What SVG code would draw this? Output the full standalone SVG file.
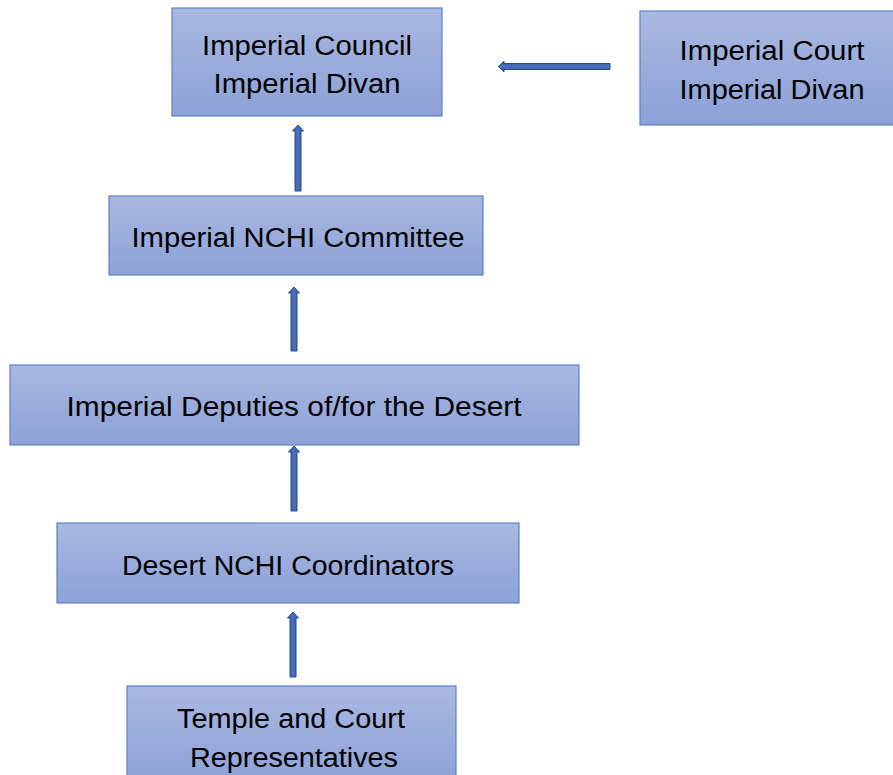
<svg xmlns="http://www.w3.org/2000/svg" width="893" height="775" viewBox="0 0 893 775">
<defs>
<linearGradient id="boxg" x1="0" y1="0" x2="0" y2="1">
<stop offset="0" stop-color="#aab8e1"/>
<stop offset="1" stop-color="#8ca1d7"/>
</linearGradient>
<linearGradient id="arrv" x1="0" y1="0" x2="1" y2="0">
<stop offset="0" stop-color="#2f5597"/>
<stop offset="0.5" stop-color="#4a72bf"/>
<stop offset="1" stop-color="#2f5597"/>
</linearGradient>
<linearGradient id="arrh" x1="0" y1="0" x2="0" y2="1">
<stop offset="0" stop-color="#2f5597"/>
<stop offset="0.5" stop-color="#4a72bf"/>
<stop offset="1" stop-color="#2f5597"/>
</linearGradient>
</defs>
<style>
.box{fill:url(#boxg);stroke:#5a82c8;stroke-width:1.2}
.t{font-family:"Liberation Sans",Arial,sans-serif;font-size:27px;fill:#000;text-anchor:middle}
.av{fill:url(#arrv);stroke:#2a4c8a;stroke-width:1}
.ah{fill:url(#arrh);stroke:#2a4c8a;stroke-width:1}
</style>
<rect width="893" height="775" fill="#fff"/>
<g id="imperial-council">
<rect class="box" x="172" y="8" width="270" height="108"/>
<text class="t" x="307" y="55" textLength="210" lengthAdjust="spacingAndGlyphs">Imperial Council</text>
<text class="t" x="307" y="93" textLength="187" lengthAdjust="spacingAndGlyphs">Imperial Divan</text>
</g>
<g id="imperial-court">
<rect class="box" x="640" y="11" width="256" height="114"/>
<text class="t" x="772" y="60" textLength="185" lengthAdjust="spacingAndGlyphs">Imperial Court</text>
<text class="t" x="772" y="99" textLength="185" lengthAdjust="spacingAndGlyphs">Imperial Divan</text>
</g>
<g id="nchi-committee">
<rect class="box" x="109" y="196" width="374" height="79"/>
<text class="t" x="298" y="247" textLength="333" lengthAdjust="spacingAndGlyphs">Imperial NCHI Committee</text>
</g>
<g id="deputies">
<rect class="box" x="10" y="365" width="569" height="80"/>
<text class="t" x="294" y="416" textLength="455" lengthAdjust="spacingAndGlyphs">Imperial Deputies of/for the Desert</text>
</g>
<g id="coordinators">
<rect class="box" x="57" y="523" width="462" height="80"/>
<text class="t" x="288" y="575" textLength="332" lengthAdjust="spacingAndGlyphs">Desert NCHI Coordinators</text>
</g>
<g id="representatives">
<rect class="box" x="127" y="686" width="329" height="100"/>
<text class="t" x="291" y="728" textLength="228" lengthAdjust="spacingAndGlyphs">Temple and Court</text>
<text class="t" x="294" y="767" textLength="208" lengthAdjust="spacingAndGlyphs">Representatives</text>
</g>
<g id="connectors">
<path class="ah" d="M610,63.5 L504,63.5 L504,61 L498.5,66.5 L504,72 L504,69.5 L610,69.5 Z"/>
<path class="av" d="M295,191 L295,131 L292.5,131 L298,125 L303.5,131 L301,131 L301,191 Z"/>
<path class="av" d="M291,351 L291,293 L288.5,293 L294,287 L299.5,293 L297,293 L297,351 Z"/>
<path class="av" d="M291,511 L291,452 L288.5,452 L294,446 L299.5,452 L297,452 L297,511 Z"/>
<path class="av" d="M290,677 L290,618 L287.5,618 L293,612 L298.5,618 L296,618 L296,677 Z"/>
</g>
</svg>
